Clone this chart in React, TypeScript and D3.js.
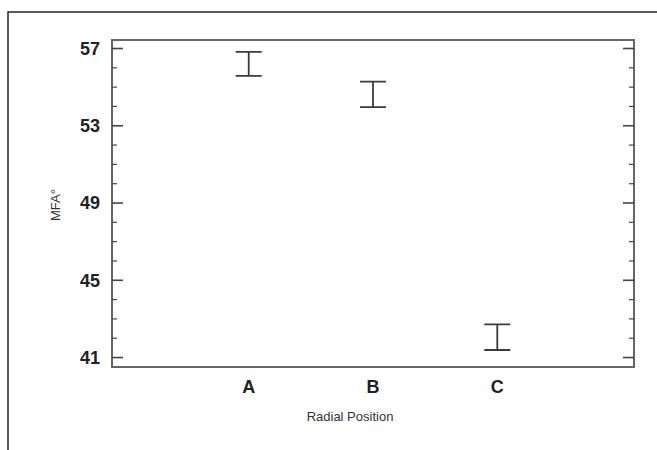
import React, { useEffect, useRef } from 'react';
import * as d3 from 'd3';

// Mean interval per radial position
const categories = ['A', 'B', 'C'];
const upperValues = [56.83, 55.28, 42.72];
const lowerValues = [55.58, 53.96, 41.39];
const majorTicks = [41, 45, 49, 53, 57];
const minorTicks = d3.range(41, 58, 1);

const W = 657;
const H = 450;

export default function App() {
  const ref = useRef<SVGSVGElement>(null);

  useEffect(() => {
    const svg = d3.select(ref.current);
    svg.selectAll('*').remove();

    const left = 112, right = 634, top = 40, bottom = 367;
    const font = '"Liberation Sans", Arial, sans-serif';

    const x = d3.scaleLinear().domain([-0.1, 4.1]).range([left, right]);
    const y = d3.scaleLinear().domain([40.51, 57.44]).range([bottom, top]);

    svg.append('rect').attr('width', W).attr('height', H).attr('fill', '#fff');

    // outer figure frame (left and top edges only visible)
    svg.append('path')
      .attr('d', `M8,${H} L8,12 L${W},12`)
      .attr('fill', 'none')
      .attr('stroke', '#222')
      .attr('stroke-width', 1.5);

    // plot box
    svg.append('rect')
      .attr('x', left).attr('y', top)
      .attr('width', right - left).attr('height', bottom - top)
      .attr('fill', 'none')
      .attr('stroke', '#666')
      .attr('stroke-width', 2);

    // left and right axis ticks, pointing inward
    const ticks = svg.append('g').attr('stroke', '#444');
    minorTicks.forEach(v => {
      const isMajor = majorTicks.includes(v);
      const len = isMajor ? 11 : 5;
      ticks.append('line')
        .attr('x1', left).attr('x2', left + len)
        .attr('y1', y(v)).attr('y2', y(v))
        .attr('stroke-width', isMajor ? 1.6 : 1.2);
      ticks.append('line')
        .attr('x1', right).attr('x2', right - len)
        .attr('y1', y(v)).attr('y2', y(v))
        .attr('stroke-width', isMajor ? 1.6 : 1.2);
    });

    svg.append('g').selectAll('text')
      .data(majorTicks)
      .join('text')
      .attr('x', 100)
      .attr('y', d => y(d))
      .attr('dy', '0.36em')
      .attr('text-anchor', 'end')
      .style('font-family', font)
      .style('font-size', '18px')
      .style('font-weight', 'bold')
      .attr('fill', '#222')
      .text(d => d);

    svg.append('g').selectAll('text')
      .data(categories)
      .join('text')
      .attr('x', (d, i) => x(i + 1))
      .attr('y', 393)
      .attr('text-anchor', 'middle')
      .style('font-family', font)
      .style('font-size', '18px')
      .style('font-weight', 'bold')
      .attr('fill', '#222')
      .text(d => d);

    // error bars
    const capHalf = 13;
    const bars = svg.append('g')
      .attr('stroke', '#3a3a3a')
      .attr('stroke-width', 1.8)
      .attr('fill', 'none');
    categories.forEach((c, i) => {
      const cx = x(i + 1);
      bars.append('path')
        .attr('d', `M${cx - capHalf},${y(upperValues[i])} H${cx + capHalf}` +
          ` M${cx},${y(upperValues[i])} V${y(lowerValues[i])}` +
          ` M${cx - capHalf},${y(lowerValues[i])} H${cx + capHalf}`);
    });

    svg.append('text')
      .attr('x', 350)
      .attr('y', 421)
      .attr('text-anchor', 'middle')
      .style('font-family', font)
      .style('font-size', '13px')
      .attr('fill', '#333')
      .text('Radial Position');

    svg.append('text')
      .attr('transform', 'translate(60,205) rotate(-90)')
      .attr('text-anchor', 'middle')
      .style('font-family', font)
      .style('font-size', '13px')
      .attr('fill', '#333')
      .text('MFA°');
  }, []);

  return (
    <svg ref={ref} width={W} height={H}
      style={{ position: 'absolute', left: 0, top: 0 }} />
  );
}
